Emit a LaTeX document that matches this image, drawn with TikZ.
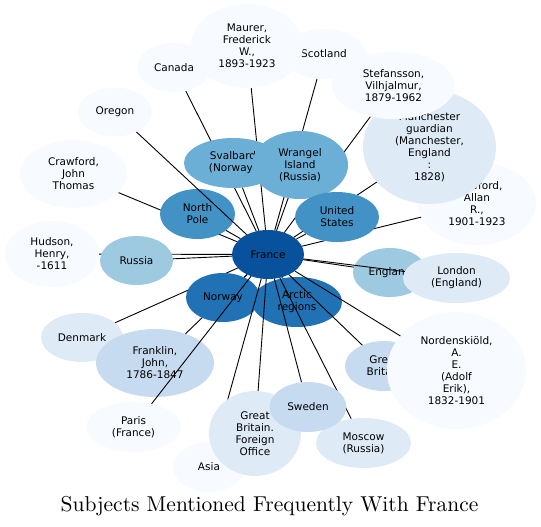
\documentclass[tikz,border=0pt]{standalone}
\usepackage{fontspec}
\newfontfamily\labelfont{DejaVu Sans}
\newfontfamily\titlefont{lmroman10-regular.otf}
\usetikzlibrary{shapes.geometric}
\definecolor{blue0}{HTML}{F7FBFF}
\definecolor{blue1}{HTML}{DEEBF7}
\definecolor{blue2}{HTML}{C6DBEF}
\definecolor{blue3}{HTML}{9ECAE1}
\definecolor{blue4}{HTML}{6BAED6}
\definecolor{blue5}{HTML}{4292C6}
\definecolor{blue6}{HTML}{2171B5}
\definecolor{blue7}{HTML}{08519C}
\pgfdeclarelayer{back}
\pgfdeclarelayer{front}
\pgfdeclarelayer{top}
\pgfsetlayers{back,main,front,top}

\begin{document}
\begin{tikzpicture}[
  x=1pt, y=-1pt,
  font=\labelfont\fontsize{10.5}{12}\selectfont,
  subj/.style={ellipse, inner sep=0pt, outer sep=0pt, align=center},
  link/.style={line width=0.9pt},
]
\useasboundingbox (0,0) rectangle (541,527);

% outer ring
\node[subj, fill=blue0, minimum width=74pt, minimum height=49pt] (canada) at (174,67.5) {Canada};
\node[subj, fill=blue0, minimum width=84pt, minimum height=50pt] (scotland) at (324,54) {Scotland};
\node[subj, fill=blue0, minimum width=112pt, minimum height=84pt] (maurer) at (247,46) {Maurer,\\Frederick\\W.,\\1893-1923};
\node[subj, fill=blue0, minimum width=74pt, minimum height=49pt] (oregon) at (115,112) {Oregon};
\node[subj, fill=blue0, minimum width=107pt, minimum height=68pt] (crawfordjt) at (73.5,174) {Crawford,\\John\\Thomas};
\node[subj, fill=blue0, minimum width=94pt, minimum height=66pt] (hudson) at (52,254) {Hudson,\\Henry,\\-1611};
\node[subj, fill=blue0, minimum width=118pt, minimum height=83pt] (crawfordar) at (477,203.5) {Crawford,\\Allan\\R.,\\1901-1923};
\node[subj, fill=blue1, minimum width=133pt, minimum height=114pt] (manchester) at (429.5,147) {Manchester\\guardian\\(Manchester,\\England\\:\\1828)};
\node[subj, fill=blue0, minimum width=123pt, minimum height=67pt] (stefansson) at (393.5,85.5) {Stefansson,\\Vilhjalmur,\\1879-1962};
\node[subj, fill=blue1, minimum width=82pt, minimum height=49pt] (denmark) at (82,337.5) {Denmark};
\node[subj, fill=blue2, minimum width=118pt, minimum height=68pt] (franklin) at (155,363) {Franklin,\\John,\\1786-1847};
\node[subj, fill=blue0, minimum width=95pt, minimum height=50pt] (paris) at (133.5,427) {Paris\\(France)};
\node[subj, fill=blue2, minimum width=78pt, minimum height=50pt] (britain) at (384,366) {Great\\Britain};
\node[subj, fill=blue0, minimum width=139pt, minimum height=117pt] (nordenskiold) at (456.5,370.5) {Nordenskiöld,\\A.\\E.\\(Adolf\\Erik),\\1832-1901};

% inner ring
\node[subj, fill=blue3, minimum width=73pt, minimum height=49pt] (russia) at (136.5,260.5) {Russia};
\node[subj, fill=blue3, minimum width=74pt, minimum height=49pt] (england) at (390,272.5) {England};
\node[subj, fill=blue1, minimum width=107pt, minimum height=50pt] (london) at (456.5,278) {London\\(England)};
\node[subj, fill=blue4, minimum width=98pt, minimum height=50pt] (svalbard) at (233,163) {Svalbard\\(Norway)};
\node[subj, fill=blue4, minimum width=96pt, minimum height=68pt] (wrangel) at (300,165) {Wrangel\\Island\\(Russia)};
\node[subj, fill=blue5, minimum width=84pt, minimum height=50pt] (usa) at (337,217) {United\\States};
\node[subj, fill=blue5, minimum width=75pt, minimum height=50pt] (northpole) at (197.5,214) {North\\Pole};
\node[subj, fill=blue6, minimum width=74pt, minimum height=49pt] (norway) at (223,297.5) {Norway};
\node[subj, fill=blue6, minimum width=90pt, minimum height=50pt] (arctic) at (297,302) {Arctic\\regions};
\node[subj, fill=blue7, minimum width=72pt, minimum height=49pt] (france) at (268,254.5) {France};

\begin{pgfonlayer}{top}
\node[subj, fill=blue0, minimum width=72pt, minimum height=50pt] (asia) at (209,467) {Asia};
\node[subj, fill=blue1, minimum width=92pt, minimum height=85pt] (foreignoffice) at (255,433.5) {Great\\Britain.\\Foreign\\Office};
\node[subj, fill=blue1, minimum width=95pt, minimum height=50pt] (moscow) at (363.5,443) {Moscow\\(Russia)};
\node[subj, fill=blue2, minimum width=77pt, minimum height=50pt] (sweden) at (308,407) {Sweden};
\end{pgfonlayer}

\node[font=\titlefont\fontsize{21.5}{26}\selectfont, anchor=base] (title) at (269.5,511) {Subjects Mentioned Frequently With France};

% links hidden by other subjects
\begin{pgfonlayer}{back}
\draw[link] (france) -- (canada);
\draw[link] (france) -- (maurer);
\draw[link] (france) -- (scotland);
\draw[link] (france) -- (stefansson);
\draw[link] (france) -- (manchester);
\draw[link] (france) -- (crawfordar);
\draw[link] (france) -- (crawfordjt);
\draw[link] (france) -- (hudson);
\draw[link] (france) -- (denmark);
\draw[link] (france) -- (franklin);
\draw[link] (france) -- (russia);
\draw[link] (france) -- (england);
\draw[link] (france) -- (svalbard);
\draw[link] (france) -- (wrangel);
\draw[link] (france) -- (usa);
\draw[link] (france) -- (northpole);
\draw[link] (france) -- (norway);
\draw[link] (france) -- (arctic);
\end{pgfonlayer}

% links drawn across other subjects
\begin{pgfonlayer}{front}
\draw[link] (france) -- (oregon);
\draw[link] (france) -- (paris);
\draw[link] (france) -- (london);
\draw[link] (france) -- (asia);
\draw[link] (france) -- (foreignoffice);
\draw[link] (france) -- (sweden);
\draw[link] (france) -- (moscow);
\draw[link] (france) -- (britain);
\draw[link] (france) -- (nordenskiold);
\end{pgfonlayer}
\end{tikzpicture}
\end{document}
